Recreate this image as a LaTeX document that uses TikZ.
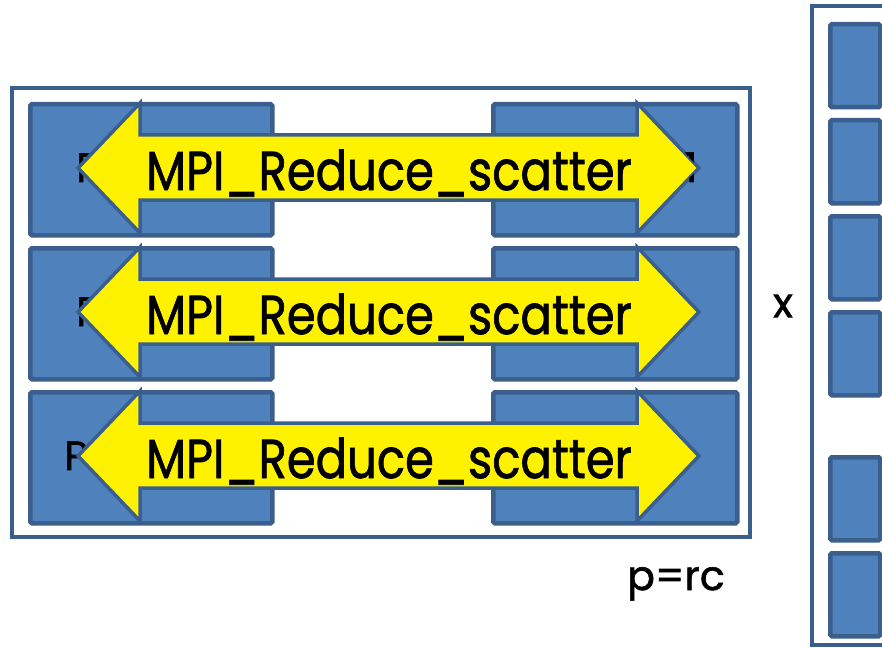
\documentclass[tikz,border=0pt]{standalone}
\usepackage{fontspec}
\setmainfont{Poppins}[FakeBold=1.4]
\definecolor{blockfill}{HTML}{4F81BD}
\definecolor{blockedge}{HTML}{3A5F8C}
\begin{document}
\begin{tikzpicture}[x=1pt,y=-1pt,
  frame/.style={draw=blockedge, line width=3.5pt},
  block/.style={draw=blockedge, fill=blockfill, line width=4.5pt, rounded corners=1.5pt},
  banner/.style={draw=blockedge, fill=yellow, line width=3.5pt, line join=miter},
  lbl/.style={font=\fontsize{46.5}{52}\selectfont, inner sep=0pt},
  small/.style={font=\fontsize{41}{46}\selectfont, inner sep=0pt}]
\useasboundingbox (0,0) rectangle (882,647);

% processor grid frame
\draw[frame] (12,88) rectangle (750,537);

% one row of the grid: two blocks, their names, and a reduce-scatter arrow across them
\foreach \y/\i/\px in {102/1/76,246/2/76,390/3/64} {
  \pgfmathsetmacro{\c}{\y+66}
  \pgfmathsetmacro{\t}{\y+1}
  \pgfmathsetmacro{\b}{\y+131}
  \node[block, minimum width=242pt, minimum height=131pt, anchor=north west] (L\i) at (28,\y) {};
  \node[block, minimum width=244pt, minimum height=131pt, anchor=north west] (R\i) at (491,\y) {};
  \node[small, anchor=base west] (P\i) at (\px,\c+14) {P};
  \draw[banner] (78,\c) -- (140,\t) -- (140,\c-33) -- (637,\c-33) -- (637,\t)
     -- (699,\c) -- (637,\b) -- (637,\c+32) -- (140,\c+32) -- (140,\b) -- cycle;
  \node[lbl, anchor=base] (A\i) at (389,\c+22) {\scalebox{1}[1.18]{MPI\_Reduce\_scatter}};
}
% name of the first row's second block, mostly under its arrow
\begin{scope}
  \clip (699,102) -- (637,102) -- (699,168) -- (637,233) -- (699,233) -- cycle;
  \node[small, anchor=base west] (Q1) at (684,182) {1};
\end{scope}

% vector frame and its pieces
\draw[frame] (892,6) -- (812,6) -- (812,645) -- (892,645);
\foreach \y/\k in {22/1,118/2,214/3,310/4,455/5,551/6}
  \node[block, minimum width=50pt, minimum height=83pt, anchor=north west] (V\k) at (828,\y) {};

\node[small, anchor=center] (times) at (783,306) {x};
\node[small, anchor=base west] (prc) at (627,590) {p=rc};
\end{tikzpicture}
\end{document}
